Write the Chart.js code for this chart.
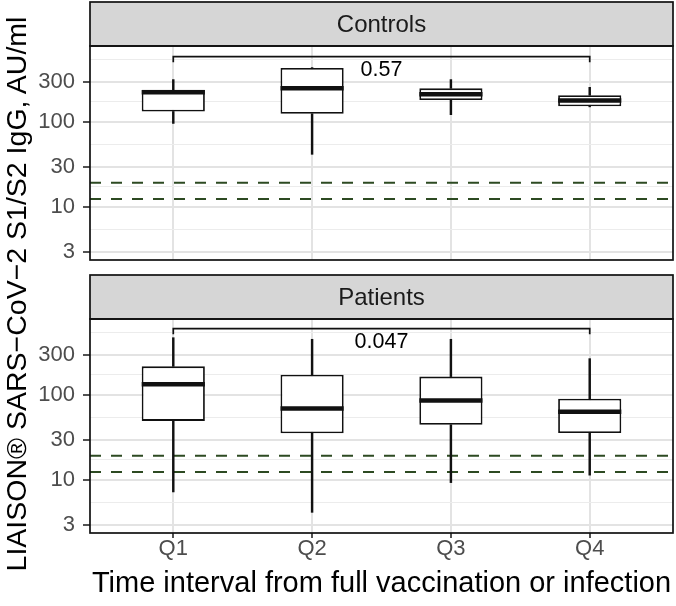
<!DOCTYPE html>
<html>
<head>
<meta charset="utf-8">
<script src="https://cdn.jsdelivr.net/npm/chart.js@4.4.1/dist/chart.umd.min.js"></script>
<style>
  html, body { margin: 0; padding: 0; background: #fff; }
  body { width: 676px; height: 606px; position: relative; overflow: hidden; font-family: "Liberation Sans", Arial, sans-serif; }
  .wrap { position: absolute; left: 0; width: 676px; }
  #topWrap { top: 0; height: 284px; }
  #bottomWrap { top: 273px; height: 333px; }
  #yTitle {
    position: absolute; left: -284px; top: 277px; width: 600px; height: 34px;
    line-height: 34px; text-align: center; font-size: 28.5px; color: #000;
    transform: rotate(-90deg); white-space: nowrap;
  }
</style>
</head>
<body>
<div id="topWrap" class="wrap"><canvas id="controlsChart" width="676" height="284"></canvas></div>
<div id="bottomWrap" class="wrap"><canvas id="patientsChart" width="676" height="333"></canvas></div>
<div id="yTitle">LIAISON® SARS−CoV−2 S1/S2 IgG, AU/ml</div>
<script>
// categories and axis
const categories = ['Q1', 'Q2', 'Q3', 'Q4'];
const yTicks = [3, 10, 30, 100, 300];
const yMin = 2.4, yMax = 790;

// Controls: whisker low, Q1, median, Q3, whisker high
const controlsLow    = [97, 42, 123, 152];
const controlsQ1     = [134, 126, 183, 154];
const controlsMedian = [226, 251, 214, 180];
const controlsQ3     = [241, 436, 251, 208];
const controlsHigh   = [318, 440, 318, 258];

// Patients
const patientsLow    = [7.3, 4.2, 9.4, 11.5];
const patientsQ1     = [50, 35.7, 45, 36];
const patientsMedian = [135, 70, 87, 64];
const patientsQ3     = [219, 175, 166, 91];
const patientsHigh   = [476, 456, 456, 270];

// cut-off lines (AU/ml)
const cutoffs = [12.5, 19.5];

// Q1 vs Q4 comparison brackets: [tip, top] and p label
const comparePair = [1, 4];
const controlsBracket = [508, 593];
const patientsBracket = [522, 608];
const controlsP = '0.57', patientsP = '0.047';
const controlsPAt = 406, patientsPAt = 424;

const FONT = '"Liberation Sans", Arial, sans-serif';
const INK = '#111111';
const xs = categories.map((c, i) => i + 1);
const minorTicks = yTicks.map((v, i) => Math.sqrt(v * (yTicks[i + 1] || v * 10 / 3)));
const allTicks = yTicks.concat(minorTicks).sort((a, b) => a - b);
const isMajor = v => yTicks.includes(v);

const panelDecor = {
    id: 'panelDecor',
    beforeDraw(chart, args, opts) {
        const { ctx, chartArea: a } = chart;
        ctx.save();
        ctx.fillStyle = '#d6d6d6';
        ctx.fillRect(a.left, a.top - opts.stripHeight, a.right - a.left, opts.stripHeight);
        ctx.restore();
    },
    afterDatasetsDraw(chart, args, opts) {
        const { ctx, scales } = chart;
        const meta = chart.getDatasetMeta(0);
        ctx.save();
        // medians across the full box width
        ctx.strokeStyle = INK;
        ctx.lineWidth = 4.5;
        meta.data.forEach((bar, i) => {
            const { x, width } = bar.getProps(['x', 'width'], true);
            const y = scales.y.getPixelForValue(opts.medians[i]);
            ctx.beginPath();
            ctx.moveTo(x - width / 2, y);
            ctx.lineTo(x + width / 2, y);
            ctx.stroke();
        });
        // p value
        ctx.fillStyle = '#000';
        ctx.font = '21.5px ' + FONT;
        ctx.textAlign = 'center';
        ctx.textBaseline = 'middle';
        const px = scales.x.getPixelForValue((comparePair[0] + comparePair[1]) / 2);
        ctx.fillText(opts.pText, px, scales.y.getPixelForValue(opts.pAt));
        ctx.restore();
    },
    afterDraw(chart, args, opts) {
        const { ctx, chartArea: a } = chart;
        const h = opts.stripHeight;
        ctx.save();
        ctx.strokeStyle = INK;
        ctx.lineWidth = 1.7;
        ctx.strokeRect(a.left, a.top - h, a.right - a.left, h);
        ctx.strokeRect(a.left, a.top, a.right - a.left, a.bottom - a.top);
        ctx.fillStyle = '#1a1a1a';
        ctx.font = '24px ' + FONT;
        ctx.textAlign = 'center';
        ctx.textBaseline = 'middle';
        ctx.fillText(opts.strip, (a.left + a.right) / 2, a.top - h / 2 + 1);
        ctx.restore();
    }
};

function makePanel(id, strip, low, q1, median, q3, high, bracket, pText, pAt, showX) {
    const hline = v => ({
        type: 'line',
        data: [{ x: 0.4, y: v }, { x: 4.6, y: v }],
        borderColor: '#2d4a22',
        borderWidth: 2,
        borderDash: [11, 10],
        pointRadius: 0,
        order: 5
    });
    return new Chart(document.getElementById(id), {
        type: 'bar',
        data: {
            datasets: [
                {
                    type: 'bar',
                    data: xs.map((x, i) => ({ x: x, y: [q1[i], q3[i]] })),
                    backgroundColor: '#ffffff',
                    borderColor: INK,
                    borderWidth: 1.8,
                    borderSkipped: false,
                    grouped: false,
                    barPercentage: 0.455,
                    categoryPercentage: 1,
                    order: 1
                },
                {
                    type: 'bar',
                    data: xs.map((x, i) => ({ x: x, y: [low[i], q1[i]] })),
                    backgroundColor: INK,
                    barThickness: 1.8,
                    grouped: false,
                    order: 2
                },
                {
                    type: 'bar',
                    data: xs.map((x, i) => ({ x: x, y: [q3[i], high[i]] })),
                    backgroundColor: INK,
                    barThickness: 1.8,
                    grouped: false,
                    order: 2
                },
                hline(cutoffs[0]),
                hline(cutoffs[1]),
                {
                    type: 'line',
                    data: [
                        { x: comparePair[0], y: bracket[0] },
                        { x: comparePair[0], y: bracket[1] },
                        { x: comparePair[1], y: bracket[1] },
                        { x: comparePair[1], y: bracket[0] }
                    ],
                    borderColor: INK,
                    borderWidth: 1.7,
                    pointRadius: 0,
                    order: 0
                }
            ]
        },
        options: {
            responsive: false,
            animation: false,
            layout: { padding: { top: 46, right: 3, bottom: 0, left: 0 } },
            plugins: {
                legend: { display: false },
                tooltip: { enabled: false },
                panelDecor: { strip: strip, stripHeight: 44, medians: median, pText: pText, pAt: pAt }
            },
            scales: {
                x: {
                    type: 'linear',
                    min: 0.4,
                    max: 4.6,
                    offset: false,
                    afterBuildTicks: s => { s.ticks = xs.map(v => ({ value: v })); },
                    afterFit: s => { s.height = showX ? 73 : 24; },
                    border: { display: false },
                    grid: {
                        offset: false,
                        color: '#e3e3e3',
                        lineWidth: 2,
                        drawTicks: showX,
                        tickLength: 5,
                        tickColor: '#333333',
                        tickWidth: 1.7
                    },
                    ticks: {
                        display: showX,
                        callback: v => categories[v - 1],
                        color: '#4d4d4d',
                        font: { family: FONT, size: 22, lineHeight: 1 },
                        padding: 0,
                        autoSkip: false,
                        maxRotation: 0
                    },
                    title: {
                        display: showX,
                        text: 'Time interval from full vaccination or infection',
                        color: '#000',
                        font: { family: FONT, size: 29, lineHeight: 1 },
                        padding: { top: 0, bottom: 8 }
                    }
                },
                y: {
                    type: 'logarithmic',
                    min: yMin,
                    max: yMax,
                    beginAtZero: false,
                    afterBuildTicks: s => { s.ticks = allTicks.map(v => ({ value: v })); },
                    afterFit: s => { s.width = 90; },
                    border: { display: false },
                    grid: {
                        color: c => isMajor(c.tick.value) ? '#e3e3e3' : '#ececec',
                        lineWidth: c => isMajor(c.tick.value) ? 2 : 1.1,
                        tickColor: c => isMajor(c.tick.value) ? '#333333' : 'rgba(0,0,0,0)',
                        tickWidth: 1.7,
                        tickLength: 7
                    },
                    ticks: {
                        callback: v => isMajor(v) ? String(v) : '',
                        color: '#4d4d4d',
                        font: { family: FONT, size: 22, lineHeight: 1 },
                        padding: 8,
                        autoSkip: false
                    }
                }
            }
        },
        plugins: [panelDecor]
    });
}

makePanel('controlsChart', 'Controls', controlsLow, controlsQ1, controlsMedian, controlsQ3, controlsHigh,
    controlsBracket, controlsP, controlsPAt, false);
makePanel('patientsChart', 'Patients', patientsLow, patientsQ1, patientsMedian, patientsQ3, patientsHigh,
    patientsBracket, patientsP, patientsPAt, true);
</script>
</body>
</html>
